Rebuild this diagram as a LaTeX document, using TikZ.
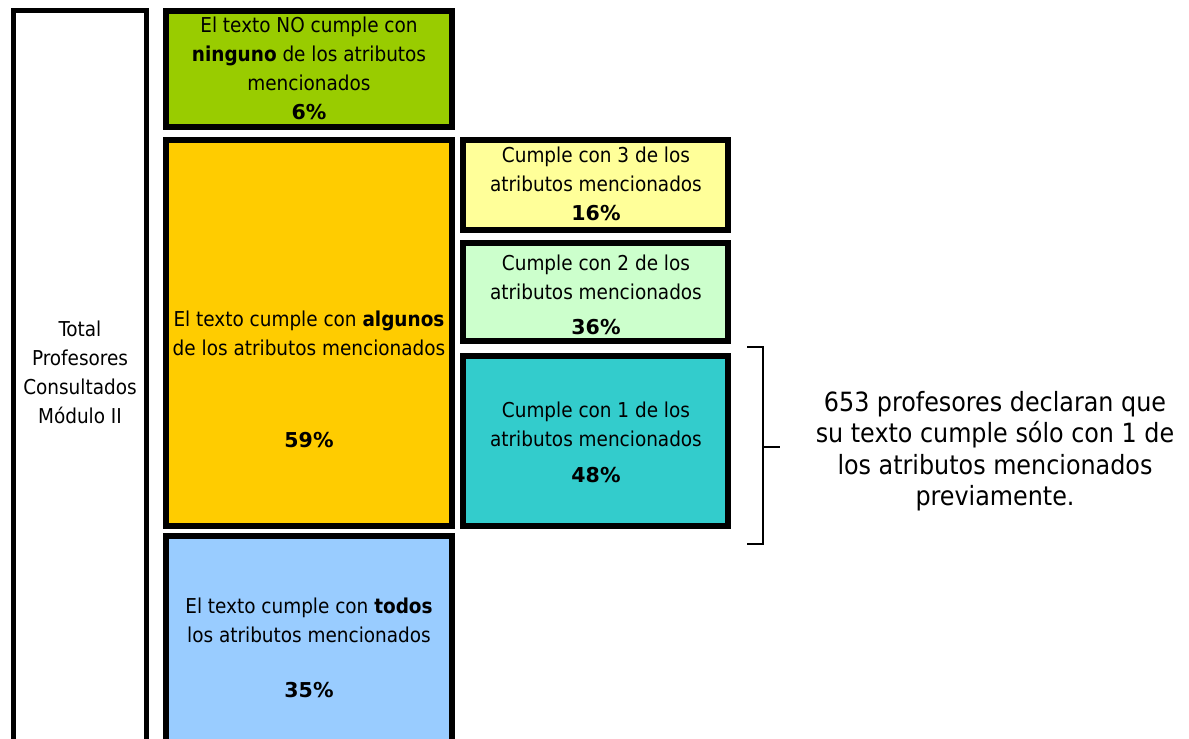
\documentclass[tikz,border=0pt]{standalone}
\usepackage{fontspec}
\setmainfont{DejaVu Sans Condensed}
\newfontfamily\pctfont{DejaVu Sans}
\newcommand{\pct}[1]{{\pctfont\bfseries #1}}
\definecolor{cgreen}{HTML}{99CC00}
\definecolor{corange}{HTML}{FFCC00}
\definecolor{cblue}{HTML}{99CCFF}
\definecolor{cyellow}{HTML}{FFFF99}
\definecolor{clgreen}{HTML}{CCFFCC}
\definecolor{cteal}{HTML}{33CCCC}
\begin{document}
\begin{tikzpicture}[x=1pt,y=-1pt,
  boxst/.style={draw=black,line width=5.5pt,rectangle},
  txt/.style={inner sep=0pt,align=center,font=\fontsize{20.5}{29}\selectfont},
  bigtxt/.style={inner sep=0pt,align=center,font=\fontsize{26.5}{31.5}\selectfont}]
\useasboundingbox (0,0) rectangle (1189,739);
\clip (0,0) rectangle (1189,739);
% boxes
\draw[boxst,fill=white] (13.5,10.5) rectangle (146.5,770);
\draw[boxst,fill=cgreen] (166,11) rectangle (452,127);
\draw[boxst,fill=corange] (166,140) rectangle (452,526);
\draw[boxst,fill=cblue] (166,536) rectangle (452,770);
\draw[boxst,fill=cyellow] (463,140) rectangle (728,230);
\draw[boxst,fill=clgreen] (463,243) rectangle (728,341);
\draw[boxst,fill=cteal] (463,356) rectangle (728,526);
% texts
\node[txt] (tleft) at (80,372) {Total\\Profesores\\Consultados\\Módulo II};
\node[txt] (tgreen) at (309,68) {El texto NO cumple con\\\textbf{ninguno} de los atributos\\mencionados\\\pct{6\%}};
\node[txt] (torange) at (309,333) {El texto cumple con \textbf{algunos}\\de los atributos mencionados};
\node[txt] (porange) at (309,440) {\pct{59\%}};
\node[txt] (tblue) at (309,620) {El texto cumple con \textbf{todos}\\los atributos mencionados};
\node[txt] (pblue) at (309,690) {\pct{35\%}};
\node[txt] (tyellow) at (596,184) {Cumple con 3 de los\\atributos mencionados\\\pct{16\%}};
\node[txt] (tlgreen) at (596,277) {Cumple con 2 de los\\atributos mencionados};
\node[txt] (plgreen) at (596,327) {\pct{36\%}};
\node[txt] (tteal) at (596,424) {Cumple con 1 de los\\atributos mencionados};
\node[txt] (pteal) at (596,475) {\pct{48\%}};
\node[bigtxt] (note) at (995,451) {653 profesores declaran que\\su texto cumple sólo con 1 de\\los atributos mencionados\\previamente.};
% bracket
\coordinate (b1) at (747,347);
\coordinate (b2) at (763,347);
\coordinate (b3) at (763,544);
\coordinate (b4) at (747,544);
\coordinate (bm) at (763,447);
\coordinate (bt) at (780,447);
\draw[line width=2pt] (b1) -- (b2) -- (b3) -- (b4);
\draw[line width=2pt] (bm) -- (bt);
\end{tikzpicture}
\end{document}
